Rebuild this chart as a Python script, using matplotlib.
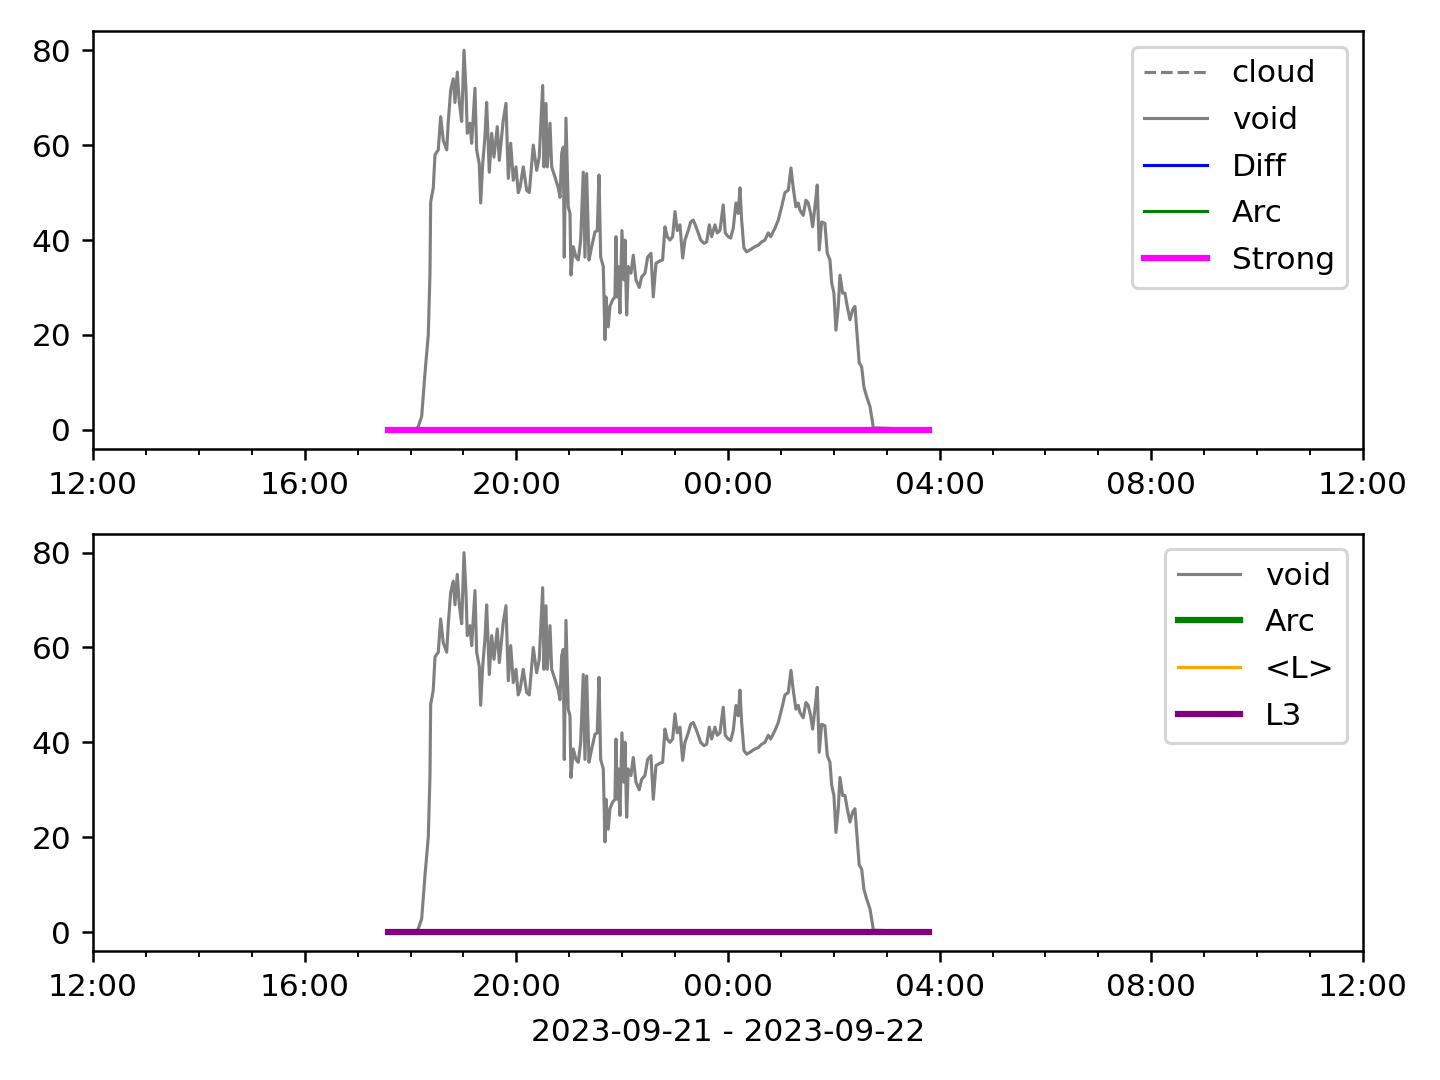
import matplotlib
matplotlib.use("Agg")
import matplotlib.pyplot as plt
import matplotlib.dates as mdates
import numpy as np
import pandas as pd

# Hours after 2023-09-21 12:00 and corresponding "void" values
void_hours = [5.575, 6.10, 6.147, 6.211, 6.274, 6.336, 6.368, 6.381, 6.430, 6.463, 6.525, 6.570,
              6.619, 6.684, 6.714, 6.759, 6.808, 6.840, 6.884, 6.922, 6.967, 7.011,
              7.048, 7.073, 7.124, 7.156, 7.218, 7.250, 7.300, 7.326, 7.364, 7.407,
              7.439, 7.489, 7.534, 7.577, 7.640, 7.678, 7.753, 7.804, 7.848, 7.893,
              7.942, 7.993, 8.036, 8.069, 8.131, 8.195, 8.245, 8.320, 8.384, 8.433,
              8.498, 8.522, 8.560, 8.585, 8.636, 8.668, 8.730, 8.793, 8.825, 8.857,
              8.887, 8.906, 8.938, 8.981, 9.014, 9.032, 9.076, 9.127, 9.171, 9.216,
              9.265, 9.297, 9.329, 9.373, 9.424, 9.486, 9.529, 9.562, 9.594, 9.643,
              9.675, 9.694, 9.737, 9.769, 9.820, 9.864, 9.883, 9.907, 9.926, 9.958,
              9.996, 10.034, 10.053, 10.085, 10.115, 10.166, 10.210, 10.261, 10.323,
              10.368, 10.431, 10.482, 10.544, 10.588, 10.639, 10.714, 10.765, 10.809,
              10.852, 10.903, 10.954, 10.998, 11.041, 11.092, 11.143, 11.187, 11.249,
              11.294, 11.344, 11.395, 11.438, 11.483, 11.546, 11.597, 11.646, 11.691,
              11.754, 11.797, 11.848, 11.910, 11.948, 12.005, 12.050, 12.100, 12.150,
              12.194, 12.226, 12.258, 12.301, 12.352, 12.415, 12.466, 12.509, 12.572,
              12.636, 12.698, 12.761, 12.806, 12.888, 12.950, 13.014, 13.076, 13.139,
              13.190, 13.233, 13.284, 13.328, 13.360, 13.422, 13.473, 13.516, 13.562,
              13.600, 13.643, 13.687, 13.724, 13.770, 13.832, 13.876, 13.927, 13.959,
              14.002, 14.040, 14.084, 14.116, 14.167, 14.210, 14.254, 14.305, 14.356,
              14.399, 14.443, 14.480, 14.526, 14.569, 14.620, 14.683, 14.733, 14.745,
              15.80]
void_values = [0, 0, 0.7, 2.8, 12, 20, 33, 48, 51, 58, 59, 66,
               61, 59, 65, 71.6, 74, 69, 75.4, 69, 65, 80,
               71.6, 62.5, 64.6, 60.4, 72, 59, 56, 47.8, 56, 61.8,
               69, 54.3, 62.5, 57.5, 63.9, 56.8, 65.3, 68.8, 53, 60.4,
               52.6, 55.4, 50, 51, 55.4, 50.5, 50, 60, 54.7, 57.5,
               72.6, 55.4, 68.8, 55.4, 64.6, 55.4, 53.3, 51, 49, 58.3,
               59.6, 36.4, 65.7, 47, 45.6, 32.6, 38.6, 36.4, 35.8, 40,
               54.3, 36.4, 54, 35.8, 38.6, 41.7, 42, 53.7, 36.4, 34.4,
               19, 28, 21.7, 26, 27.4, 28, 40.7, 28, 34.4, 24.6,
               42, 31.6, 40, 24.2, 34.4, 33, 36.8, 31.6, 30,
               32.2, 33, 36.4, 37.2, 28, 35.1, 35.6, 35.8, 42.8,
               40.7, 40, 40.7, 46, 42, 43.2, 36.2, 40, 42,
               43.8, 44.2, 42.8, 41.5, 40, 39.3, 39.6, 43.2, 40.7,
               43.2, 41.5, 42, 47.4, 41.5, 40.7, 40.4, 42.5, 47.8,
               45.6, 51, 44.2, 38.3, 37.5, 37.9, 38.3, 38.6, 38.9,
               39.6, 40, 41.5, 40.7, 42.5, 44.2, 47, 50, 50.5,
               55.2, 51, 47, 47.8, 46.3, 45.2, 48.4, 47.8, 45.6,
               42.8, 47, 51.6, 37.9, 43.8, 43.5, 37.2, 35.8, 31,
               28.8, 21, 26, 32.6, 28.8, 28.8, 26, 23.2, 25.3,
               26, 19.6, 14.1, 13.3, 9, 7, 4.9, 1.5, 0.4,
               0]

# Flat "Strong" / "L3" series at zero across the observation window
flat_hours = [5.575, 15.80]
flat_values = [0, 0]

start = pd.Timestamp("2023-09-21 12:00")
end = pd.Timestamp("2023-09-22 12:00")
t_void = start + pd.to_timedelta(void_hours, unit="h")
t_flat = start + pd.to_timedelta(flat_hours, unit="h")
empty_t = pd.DatetimeIndex([])

fig, (ax1, ax2) = plt.subplots(2, 1, figsize=(6.4, 4.8), dpi=225)
fig.subplots_adjust(left=0.0646, right=0.9465, top=0.971, bottom=0.1194, hspace=0.2035)

# Top panel
ax1.plot(empty_t, [], color="gray", ls="--", lw=1, label="cloud")
ax1.plot(t_void, void_values, color="gray", lw=1, label="void")
ax1.plot(empty_t, [], color="blue", lw=1, label="Diff")
ax1.plot(empty_t, [], color="green", lw=1, label="Arc")
ax1.plot(t_flat, flat_values, color="magenta", lw=2, label="Strong")
ax1.legend(loc="upper right", labelspacing=0.565)

# Bottom panel
ax2.plot(t_void, void_values, color="gray", lw=1, label="void")
ax2.plot(empty_t, [], color="green", lw=2, label="Arc")
ax2.plot(empty_t, [], color="orange", lw=1, label="<L>")
ax2.plot(t_flat, flat_values, color="purple", lw=2, label="L3")
ax2.legend(loc="upper right", labelspacing=0.565)
ax2.set_xlabel("2023-09-21 - 2023-09-22", labelpad=5)

for ax in (ax1, ax2):
    ax.set_xlim(start, end)
    ax.set_ylim(-4, 84)
    ax.set_yticks([0, 20, 40, 60, 80])
    ax.xaxis.set_major_locator(mdates.HourLocator(byhour=[0, 4, 8, 12, 16, 20]))
    ax.xaxis.set_minor_locator(mdates.HourLocator())
    ax.xaxis.set_major_formatter(mdates.DateFormatter("%H:%M"))

fig.savefig("out.png", dpi=225)
